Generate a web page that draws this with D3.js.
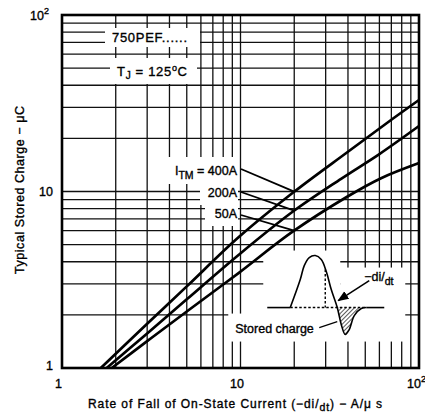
<!DOCTYPE html>
<html><head><meta charset="utf-8">
<script src="https://cdn.jsdelivr.net/npm/d3@7"></script>
<style>
html,body{margin:0;padding:0;background:#fff;}
svg{display:block;font-family:"Liberation Sans",Arial,Helvetica,sans-serif;}
svg text{stroke:#000;stroke-width:0.35px;}
</style></head><body>
<svg id="chart" width="425" height="420"></svg>
<script>
// Typical stored charge vs. rate of fall of on-state current (750PEF, TJ = 125 °C)
const currents = ["400A", "200A", "50A"];
const rate400 = [1.65, 3, 5, 9.75, 19.8, 40, 70, 100];
const charge400 = [1, 1.78, 2.9, 5.5, 9.9, 16.8, 25.5, 33];
const rate200 = [1.78, 3, 5, 9.75, 19.5, 36.6, 60, 100];
const charge200 = [1, 1.57, 2.45, 4.37, 7.65, 11.8, 16.3, 23.5];
const rate50 = [1.9, 3, 5, 9.75, 19.5, 40, 61.3, 100];
const charge50 = [1, 1.42, 2.09, 3.45, 5.9, 9.4, 11.9, 14.5];
const xTicks = [1, 10, 100];
const yTicks = [1, 10, 100];
const minorSteps = [2, 3, 4, 5, 6, 7, 8, 9];
const leaderRate = 20;

const svg = d3.select("#chart");
const x = d3.scaleLog().domain([1, 100]).range([62, 419]);
const y = d3.scaleLog().domain([1, 100]).range([368, 15]);

const series = [
  {name: currents[0], rate: rate400, charge: charge400},
  {name: currents[1], rate: rate200, charge: charge200},
  {name: currents[2], rate: rate50, charge: charge50}
];

// log-log grid: every integer multiple inside each decade
const gridVals = [];
[1, 10].forEach(d => minorSteps.forEach(m => gridVals.push(m * d)));
gridVals.push(10);
const grid = svg.append("g").attr("stroke", "#111").attr("stroke-width", 1.3);
grid.selectAll("line.v").data(gridVals).join("line").attr("class", "v")
  .attr("x1", d => x(d)).attr("x2", d => x(d)).attr("y1", y(100)).attr("y2", y(1));
grid.selectAll("line.h").data(gridVals).join("line").attr("class", "h")
  .attr("y1", d => y(d)).attr("y2", d => y(d)).attr("x1", x(1)).attr("x2", x(100));

// white panels behind the annotations
const panels = [
  [105, 28, 95, 19],
  [110, 58, 87, 26],
  [160, 157, 78, 27],
  [200, 184, 38, 21],
  [205, 205, 33, 21]
];
svg.append("g").selectAll("rect").data(panels).join("rect")
  .attr("x", d => d[0]).attr("y", d => d[1]).attr("width", d => d[2]).attr("height", d => d[3])
  .attr("fill", "#fff");

// inset: current waveform during turn-off (background panels first)
const inset = svg.append("g").attr("transform", `translate(${x(19)},${y(2.2)})`);
const insetPanels = [[-27, -57, 77, 91], [50, -40, 65, 74], [-62, 6, 36, 28]];
inset.selectAll("rect").data(insetPanels).join("rect")
  .attr("x", d => d[0]).attr("y", d => d[1]).attr("width", d => d[2]).attr("height", d => d[3])
  .attr("fill", "#fff");

// frame
svg.append("rect").attr("x", x(1)).attr("y", y(100))
  .attr("width", x(100) - x(1)).attr("height", y(1) - y(100))
  .attr("fill", "none").attr("stroke", "#000").attr("stroke-width", 2.6);

// curves
const line = d3.line().x(d => x(d[0])).y(d => y(d[1])).curve(d3.curveCatmullRom.alpha(0.5));
svg.append("g").selectAll("path").data(series).join("path")
  .attr("d", s => line(s.rate.map((r, i) => [r, s.charge[i]])))
  .attr("fill", "none").attr("stroke", "#000").attr("stroke-width", 2.7)
  .attr("stroke-linejoin", "round");

// charge on a curve at a given rate, interpolated in log space
function chargeAt(s, r) {
  for (let i = 1; i < s.rate.length; i++) {
    if (r <= s.rate[i]) {
      const t = (Math.log(r) - Math.log(s.rate[i - 1])) / (Math.log(s.rate[i]) - Math.log(s.rate[i - 1]));
      return Math.exp(Math.log(s.charge[i - 1]) + t * (Math.log(s.charge[i]) - Math.log(s.charge[i - 1])));
    }
  }
  return s.charge[s.charge.length - 1];
}

// current labels with leader lines
const labelPos = [[237, 175, 169], [237, 197, 192], [237, 218, 215]];
const lab = svg.append("g").attr("font-size", 12.5).attr("fill", "#000");
series.forEach((s, i) => {
  const [tx, ty, ly] = labelPos[i];
  svg.append("line").attr("x1", tx + 4).attr("y1", ly)
    .attr("x2", x(leaderRate)).attr("y2", y(chargeAt(s, leaderRate)))
    .attr("stroke", "#000").attr("stroke-width", 1.8);
  const t = lab.append("text").attr("x", tx).attr("y", ty).attr("text-anchor", "end");
  if (i === 0) {
    t.append("tspan").text("I");
    t.append("tspan").attr("font-size", 10.5).attr("dy", 4).text("TM");
    t.append("tspan").attr("dy", -4).text(" = " + s.name);
  } else {
    t.text(s.name);
  }
});

// device / temperature labels
const head = svg.append("g").attr("font-size", 13).attr("fill", "#000");
head.append("text").attr("x", 112).attr("y", 41.5).attr("textLength", 75).text("750PEF......");
const tj = head.append("text").attr("x", 117).attr("y", 76).attr("textLength", 70);
tj.append("tspan").text("T");
tj.append("tspan").attr("font-size", 10).attr("dy", 3).text("J");
tj.append("tspan").attr("dy", -3).text(" = 125");
tj.append("tspan").attr("font-size", 9).attr("dy", -5).text("o");
tj.append("tspan").attr("dy", 5).text("C");

// axes (labels only)
const fmt = d => d === 100 ? "10" : String(d);
const xa = svg.append("g").attr("transform", `translate(-4,${y(1)})`)
  .call(d3.axisBottom(x).tickValues(xTicks).tickFormat(fmt).tickSize(0).tickPadding(11));
const ya = svg.append("g").attr("transform", `translate(${x(1)},0)`)
  .call(d3.axisLeft(y).tickValues(yTicks).tickFormat(fmt).tickSize(0).tickPadding(9));
[xa, ya].forEach(a => {
  a.select(".domain").remove();
  a.selectAll("text").attr("font-size", 12.5).attr("fill", "#000")
    .attr("font-family", "Liberation Sans, Arial, sans-serif");
  a.selectAll(".tick").filter(d => d === 100).select("text")
    .append("tspan").attr("font-size", 9).attr("dy", -6).text("2");
});
xa.selectAll(".tick").filter(d => d === 100).select("text").attr("dx", 1);
ya.selectAll(".tick").filter(d => d === 100).select("text").attr("dx", -4);
ya.selectAll(".tick").filter(d => d === 1).select("text").attr("dy", "0.1em");

// axis titles
const xt = svg.append("text").attr("x", 88).attr("y", 408)
  .attr("font-size", 12).attr("fill", "#000").attr("textLength", 294);
xt.append("tspan").text("Rate of Fall of On-State Current (\u2212di/");
xt.append("tspan").attr("font-size", 10.5).attr("dy", 3).text("dt");
xt.append("tspan").attr("dy", -3).text(") \u2212 A/\u03bc s");
svg.append("text").attr("transform", "translate(24,274) rotate(-90)")
  .attr("font-size", 12.5).attr("fill", "#000").attr("textLength", 168)
  .text("Typical Stored Charge \u2212 \u03bcC");

// inset drawing
const defs = svg.append("defs");
const pat = defs.append("pattern").attr("id", "hatch").attr("patternUnits", "userSpaceOnUse")
  .attr("width", 3).attr("height", 3).attr("patternTransform", "rotate(45)");
pat.append("line").attr("x1", 0).attr("y1", 0).attr("x2", 0).attr("y2", 3)
  .attr("stroke", "#000").attr("stroke-width", 1.3);
defs.append("marker").attr("id", "arrow").attr("viewBox", "0 0 10 10").attr("refX", 9).attr("refY", 5)
  .attr("markerWidth", 7).attr("markerHeight", 7).attr("orient", "auto")
  .append("path").attr("d", "M0,1 L10,5 L0,9 Z").attr("fill", "#000");

const art = svg.append("g").attr("transform", `translate(${x(19)},${y(2.2)})`);
const wave = [[0, 0], [10, -28], [14, -42], [19, -50], [25, -52], [31, -48], [36, -36], [41, -18],
  [47, 0], [51, 17], [55, 27], [59, 22], [64, 8], [71, 1], [76, 0]];
const dip = wave.slice(8, 15);
const wl = d3.line().curve(d3.curveCatmullRom.alpha(0.5));
art.append("path").attr("d", wl(dip) + "Z").attr("fill", "url(#hatch)").attr("stroke", "none");
art.append("path").attr("d", wl(wave)).attr("fill", "none").attr("stroke", "#000").attr("stroke-width", 1.6);
art.append("line").attr("x1", -23).attr("x2", 0).attr("y1", 0).attr("y2", 0)
  .attr("stroke", "#000").attr("stroke-width", 1.6);
art.append("line").attr("x1", 76).attr("x2", 94).attr("y1", 0).attr("y2", 0)
  .attr("stroke", "#000").attr("stroke-width", 1.6);
art.append("line").attr("x1", 0).attr("x2", 76).attr("y1", 0).attr("y2", 0)
  .attr("stroke", "#000").attr("stroke-width", 1.4).attr("stroke-dasharray", "2.5,2");
art.append("line").attr("x1", 35).attr("x2", 35).attr("y1", -38).attr("y2", 0)
  .attr("stroke", "#000").attr("stroke-width", 1.4).attr("stroke-dasharray", "2.5,2");
art.append("line").attr("x1", 79).attr("y1", -27).attr("x2", 48).attr("y2", -7)
  .attr("stroke", "#000").attr("stroke-width", 1.6).attr("marker-end", "url(#arrow)");
art.append("line").attr("x1", 29).attr("y1", 20).attr("x2", 47).attr("y2", 14)
  .attr("stroke", "#000").attr("stroke-width", 1.2);
const dl = art.append("text").attr("x", 74).attr("y", -27).attr("font-size", 12.5).attr("fill", "#000");
dl.append("tspan").text("\u2212di/");
dl.append("tspan").attr("font-size", 10.5).attr("dy", 4).text("dt");
art.append("text").attr("x", -55).attr("y", 25).attr("font-size", 12.5).attr("fill", "#000")
  .text("Stored charge");
</script>
</body></html>
